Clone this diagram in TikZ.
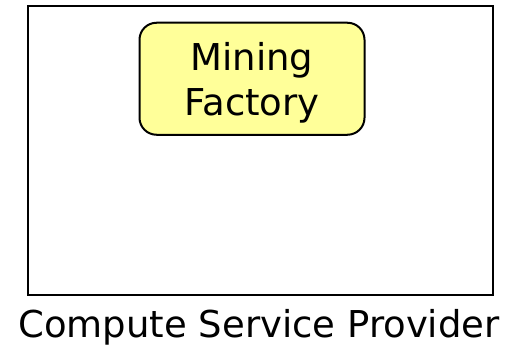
\documentclass[tikz,border=0pt]{standalone}
\usepackage{fontspec}
\setmainfont{DejaVu Sans}
\usetikzlibrary{positioning}
\definecolor{factoryyellow}{HTML}{FFFF99}

\begin{document}
\begin{tikzpicture}[x=1pt, y=-1pt]
    \def\fsize{\fontsize{37}{45}\selectfont}
    \useasboundingbox (0,0) rectangle (508,350);
    \node(provider) [draw, line width=2pt, minimum width=465pt, minimum height=289pt, inner sep=0pt] at (260,150.5) {};
    \node(factory) [draw, line width=2pt, fill=factoryyellow, rounded corners=17pt, minimum width=225pt, minimum height=112pt, align=center, text depth=0pt, font=\fsize] at (252,78.75) {Mining\\Factory};
    \node(label) [anchor=base, font=\fsize, inner sep=0pt] at (259,337) {Compute Service Provider};
\end{tikzpicture}
\end{document}
